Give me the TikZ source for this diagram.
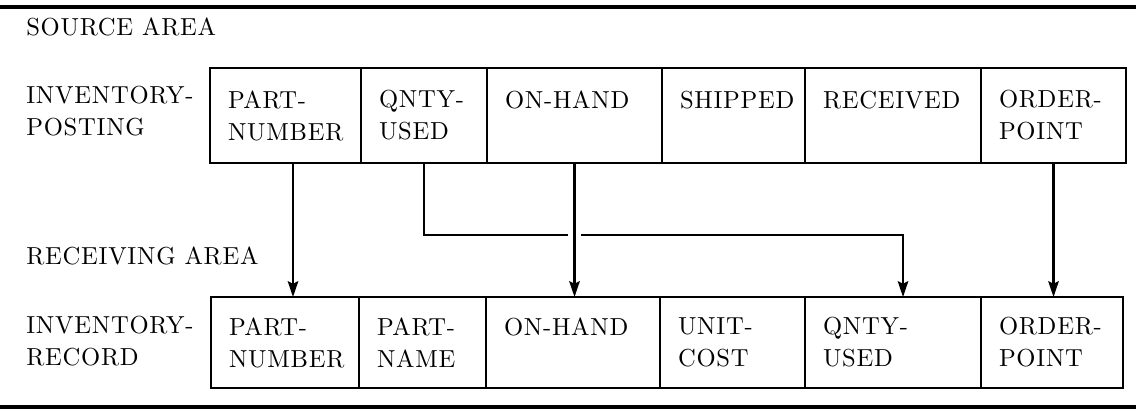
\documentclass[tikz,border=0pt]{standalone}
\usepackage{fontspec}
\setmainfont{lmroman10-regular.otf}[LetterSpace=3]
\usetikzlibrary{positioning, arrows.meta}

\tikzset{
    cell/.style={draw, line width=1.2pt, outer sep=0pt, inner xsep=0.36cm, inner ysep=0pt,
        align=left, text width=#1},
    toprow/.style={minimum height=1.9cm},
    botrow/.style={minimum height=1.82cm},
    tag/.style={inner sep=0pt, align=left},
    flow/.style={-{Stealth[length=9pt, width=6pt, inset=1.5pt]}, line width=1.2pt},
    rule/.style={line width=1.8pt}
}

\begin{document}
\begin{tikzpicture}[scale=1.0, font=\fontsize{14}{18.2}\selectfont]

    \useasboundingbox (0,0) rectangle (22.72,-8.24);

    % --- Rules ---
    \draw[rule] (0,-0.14) -- (22.72,-0.14);
    \draw[rule] (0,-8.14) -- (22.72,-8.14);

    % --- Source area ---
    \node[tag, anchor=base west] (src) at (0.52,-0.72) {SOURCE AREA};
    \node[tag, anchor=west] (post) at (0.52,-2.22) {INVENTORY-\\POSTING};

    \node[cell=2.30cm, toprow, anchor=north west] (pn1) at (4.2,-1.36) {PART-\\NUMBER};
    \node[cell=1.80cm, toprow, right=0pt of pn1] (qu1) {QNTY-\\USED};
    \node[cell=2.78cm, toprow, right=0pt of qu1] (oh1) {ON-HAND\\\mbox{}};
    \node[cell=2.14cm, toprow, right=0pt of oh1] (sh1) {SHIPPED\\\mbox{}};
    \node[cell=2.80cm, toprow, right=0pt of sh1] (rc1) {RECEIVED\\\mbox{}};
    \node[cell=2.18cm, toprow, right=0pt of rc1] (op1) {ORDER-\\POINT};

    % --- Receiving area ---
    \node[tag, anchor=base west] (rcv) at (0.52,-5.30) {RECEIVING AREA};
    \node[tag, anchor=west] (rec) at (0.52,-6.83) {INVENTORY-\\RECORD};

    \node[cell=2.24cm, botrow, anchor=north west] (pn2) at (4.22,-5.94) {PART-\\NUMBER};
    \node[cell=1.82cm, botrow, right=0pt of pn2] (pm2) {PART-\\NAME};
    \node[cell=2.76cm, botrow, right=0pt of pm2] (oh2) {ON-HAND\\\mbox{}};
    \node[cell=2.18cm, botrow, right=0pt of oh2] (uc2) {UNIT-\\COST};
    \node[cell=2.80cm, botrow, right=0pt of uc2] (qu2) {QNTY-\\USED};
    \node[cell=2.12cm, botrow, right=0pt of qu2] (op2) {ORDER-\\POINT};

    % --- Moves ---
    \draw[flow] ([xshift=0.15cm]pn1.south) -- ([xshift=0.15cm]pn1.south |- pn2.north);
    \draw[flow] (qu1.south) -- ++(0,-1.44cm) -| ([xshift=0.2cm]qu2.north);
    \draw[flow, preaction={draw=white, -, line width=7pt, shorten <=1.2cm, shorten >=1.0cm}]
        (oh1.south) -- (oh1.south |- oh2.north);
    \draw[flow] (op1.south) -- (op1.south |- op2.north);

\end{tikzpicture}
\end{document}
